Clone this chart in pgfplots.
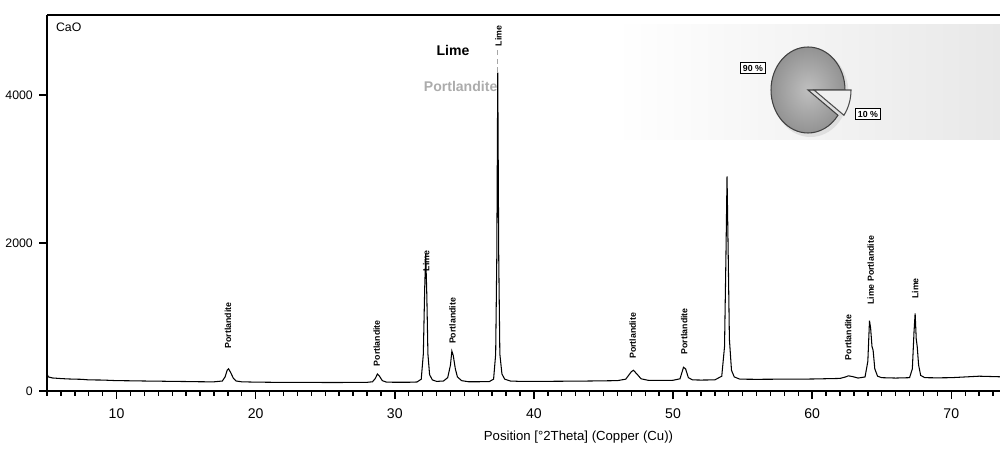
\documentclass[border=0pt]{standalone}
\usepackage{pgfplots}
\pgfplotsset{compat=1.18}
\usepackage{fontspec}
\setmainfont{Liberation Sans}
\pgfplotstableread{
x y
5.0 230
5.1 190
5.4 176
6.0 168
6.5 163
7 160
7.5 158
8 150
9 148
10 140
11 138
12 135
13 133
14 130
15 128
16 125
17 124
17.6 135
17.8 190
17.95 280
18.05 300
18.2 250
18.4 170
18.6 135
19 124
20 120
21 118
22 117
23 116
24 116
25 115
26 115
27 116
28 117
28.4 125
28.6 170
28.75 230
28.9 200
29.1 140
29.4 120
30 118
31 118
31.6 122
31.9 160
32.05 500
32.15 1400
32.22 1850
32.3 1300
32.38 500
32.5 220
32.7 150
33.0 130
33.5 135
33.8 180
34.0 350
34.1 540
34.2 480
34.35 300
34.5 190
34.8 140
35.3 125
36 125
36.8 128
37.1 160
37.25 500
37.33 1800
37.4 4300
37.47 1800
37.55 500
37.7 230
37.9 160
38.3 135
39 130
40 130
42 132
44 135
46 140
46.6 160
47.0 260
47.15 280
47.4 230
47.7 165
48.2 145
49 143
50 145
50.5 165
50.75 320
50.9 300
51.1 180
51.4 150
52 148
53 150
53.5 200
53.7 600
53.8 1800
53.88 2900
53.96 1900
54.05 700
54.2 280
54.4 190
54.8 160
56 158
58 160
60 162
62 170
62.4 190
62.6 205
62.9 195
63.3 175
63.8 190
64.0 400
64.12 950
64.2 850
64.3 600
64.38 550
64.5 300
64.7 200
65 180
66 175
67 180
67.2 300
67.32 800
67.4 1050
67.48 700
67.55 600
67.65 350
67.8 210
68.1 180
69 178
70 180
71 190
72 200
73 195
73.5 192
}\xrd
\begin{document}
\begin{tikzpicture}
\begin{axis}[
  scale only axis, width=19.06cm, height=7.52cm,
  xmin=5, xmax=73.5, ymin=0, ymax=5080,
  axis lines*=left,
  axis line style={line width=1.1pt},
  tick align=outside,
  major tick length=0.16cm, minor tick length=0.09cm,
  tick style={line width=0.8pt, black},
  xtick={10,20,30,40,50,60,70},
  minor xtick={5,6,...,73},
  ytick={0,2000,4000},
  /pgf/number format/1000 sep={},
  /pgf/number format/assume math mode=true,
  xticklabel style={font=\fontsize{8}{9}\selectfont, yshift=-2pt},
  yticklabel style={font=\fontsize{7}{8}\selectfont},
  xlabel={Position [°2Theta] (Copper (Cu))},
  xlabel style={font=\fontsize{7.5}{9}\selectfont, xshift=1.1cm, yshift=0pt},
  clip=false,
]
\addplot[black, line width=0.6pt] table[x=x,y=y]{\xrd};
\draw[line width=1.1pt] (rel axis cs:0,1) -- (rel axis cs:1,1);
\draw[gray!70, densely dashed, line width=0.4pt] (axis cs:37.4,4300) -- (axis cs:37.4,4640);
\node[anchor=north west, font=\fontsize{7}{8}\selectfont] at (rel axis cs:0.003,0.995) {CaO};
\node[font=\bfseries\fontsize{8}{9}\selectfont] at (rel axis cs:0.426,0.905) {Lime};
\node[font=\bfseries\fontsize{8}{9}\selectfont, text=gray!65] at (rel axis cs:0.434,0.81) {Portlandite};
\tikzset{pk/.style={rotate=90, anchor=west, font=\bfseries\fontsize{5}{6}\selectfont, inner sep=0.5pt}}
\node[pk] at (axis cs:18.0,560) {Portlandite};
\node[pk] at (axis cs:28.7,320) {Portlandite};
\node[pk] at (axis cs:32.25,1600) {Lime};
\node[pk] at (axis cs:34.15,620) {Portlandite};
\node[pk] at (axis cs:37.45,4640) {Lime};
\node[pk] at (axis cs:47.1,420) {Portlandite};
\node[pk] at (axis cs:50.8,480) {Portlandite};
\node[pk] at (axis cs:62.6,400) {Portlandite};
\node[pk] at (axis cs:64.2,1150) {Lime Portlandite};
\node[pk] at (axis cs:67.4,1230) {Lime};
\end{axis}
% pie inset
\shade[left color=white, right color=gray!18] (11.36,5.02) rectangle (19.06,7.32);
\begin{scope}[shift={(15.22,6.02)}]
  \fill[gray!40, opacity=0.5] (0.05,-0.06) ellipse[x radius=0.76, y radius=0.88];
  \shade[inner color=gray!50, outer color=gray!85] (0,0) -- (0:0.74 and 0.86) arc[start angle=0, end angle=324, x radius=0.74, y radius=0.86] -- cycle;
  \draw[black!75, line width=0.6pt] (0,0) -- (0:0.74 and 0.86) arc[start angle=0, end angle=324, x radius=0.74, y radius=0.86] -- cycle;
  \filldraw[shift={(0.12,0)}, fill=gray!12, draw=black!70, line width=0.6pt] (0,0) -- (-36:0.74 and 0.86) arc[start angle=-36, end angle=0, x radius=0.74, y radius=0.86] -- cycle;
  \node[draw, line width=0.6pt, fill=white, inner sep=1.2pt, font=\bfseries\fontsize{5}{6}\selectfont] at (-1.1,0.44) {90 \%};
  \node[draw, line width=0.6pt, fill=white, inner sep=1.2pt, font=\bfseries\fontsize{5}{6}\selectfont] at (1.2,-0.48) {10 \%};
\end{scope}
\pgfresetboundingbox
\path[use as bounding box] (-0.94,-1.18) rectangle (19.06,7.82);
\end{tikzpicture}
\end{document}
